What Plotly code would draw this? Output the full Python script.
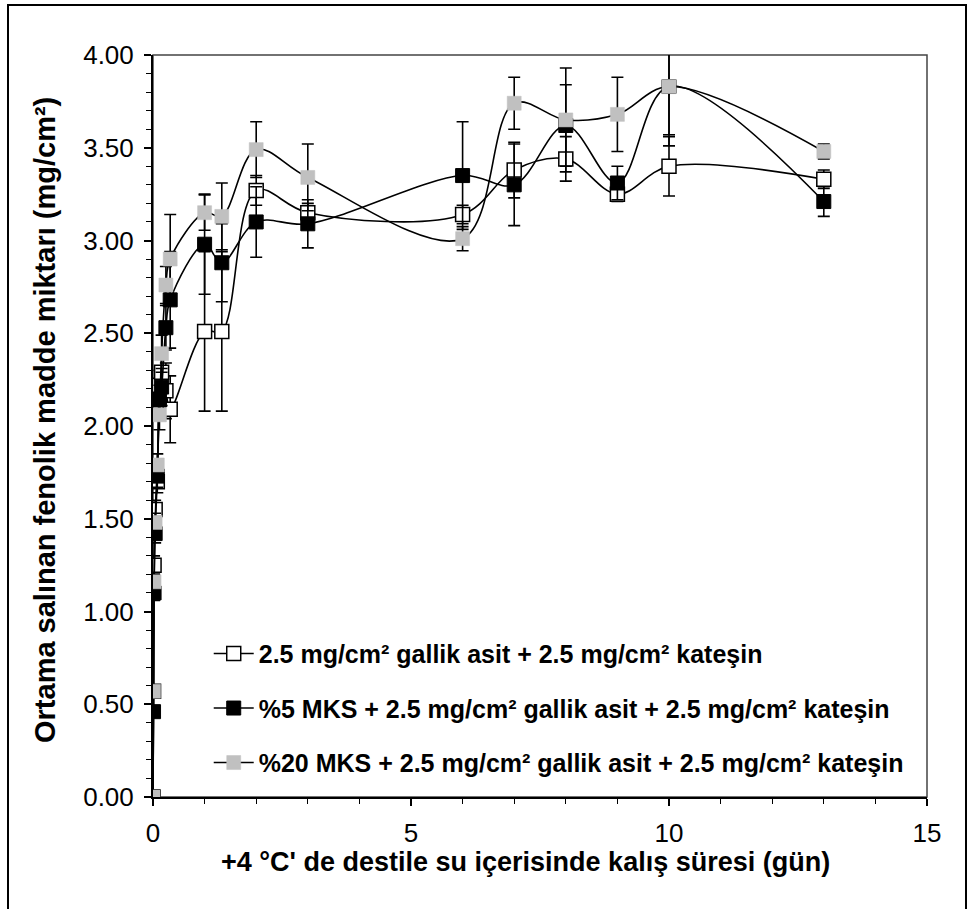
import plotly.graph_objects as go

# Sampling times (days) and mean released phenolic content (mg/cm²) with SD
days = [0, 0.0104, 0.0208, 0.0417, 0.0833, 0.125, 0.1667, 0.25, 0.3333,
        1, 1.3333, 2, 3, 6, 7, 8, 9, 10, 13]

control_mean = [0, 0.57, 1.25, 1.55, 1.70, 2.22, 2.29, 2.19, 2.09,
                2.51, 2.51, 3.27, 3.15, 3.14, 3.38, 3.44, 3.25, 3.40, 3.33]
control_sd = [0, 0.03, 0.05, 0.05, 0.06, 0.08, 0.10, 0.15, 0.18,
              0.43, 0.43, 0.08, 0.05, 0.05, 0.15, 0.12, 0.04, 0.16, 0.05]

mks5_mean = [0, 0.46, 1.10, 1.42, 1.73, 2.14, 2.21, 2.53, 2.68,
             2.98, 2.88, 3.10, 3.09, 3.35, 3.30, 3.62, 3.31, 3.83, 3.21]
mks5_sd = [0, 0.02, 0.04, 0.05, 0.06, 0.08, 0.10, 0.12, 0.26,
           0.27, 0.21, 0.19, 0.13, 0.29, 0.22, 0.22, 0.09, 0.32, 0.08]

mks20_mean = [0, 0.57, 1.16, 1.48, 1.79, 2.06, 2.39, 2.76, 2.90,
              3.15, 3.13, 3.49, 3.34, 3.01, 3.74, 3.65, 3.68, 3.83, 3.48]
mks20_sd = [0, 0.02, 0.04, 0.05, 0.06, 0.08, 0.10, 0.10, 0.24,
            0.095, 0.18, 0.15, 0.18, 0.065, 0.14, 0.28, 0.20, 0.26, 0.04]

series_names = [
    "2.5 mg/cm² gallik asit + 2.5 mg/cm² kateşin",
    "%5 MKS + 2.5 mg/cm² gallik asit + 2.5 mg/cm² kateşin",
    "%20 MKS + 2.5 mg/cm² gallik asit + 2.5 mg/cm² kateşin",
]

x_title = "+4 °C' de destile su içerisinde kalış süresi (gün)"
y_title = "Ortama salınan fenolik madde miktarı (mg/cm²)"

font_family = "Liberation Sans, Arial, sans-serif"

styles = [
    dict(fill="white", edge="black", edge_w=1.5),
    dict(fill="black", edge="black", edge_w=1.0),
    dict(fill="#c0c0c0", edge="#c0c0c0", edge_w=0.5),
]

fig = go.Figure()
for i, (name, mean, sd) in enumerate(zip(
        series_names,
        [control_mean, mks5_mean, mks20_mean],
        [control_sd, mks5_sd, mks20_sd])):
    st = styles[i]
    fig.add_trace(go.Scatter(
        x=days, y=mean, name=f"<b>{name}</b>", mode="lines+markers",
        line=dict(color="black", width=1.6, shape="spline", smoothing=1),
        marker=dict(symbol="square", size=14, color=st["fill"],
                    line=dict(color=st["edge"], width=st["edge_w"])),
        error_y=dict(type="data", array=sd, visible=True,
                     color="black", thickness=1.6, width=6),
        legendgroup=f"g{i}",
    ))

fig.update_layout(
    width=976, height=909,
    margin=dict(l=153, r=49, t=55, b=112),
    paper_bgcolor="white", plot_bgcolor="white",
    showlegend=True,
    legend=dict(
        x=0.072, y=0.224, xanchor="left", yanchor="top",
        bgcolor="rgba(0,0,0,0)", tracegroupgap=19, traceorder="grouped",
        font=dict(family=font_family, size=25, color="black"),
        itemwidth=40,
    ),
    font=dict(family=font_family, color="black"),
)

fig.update_xaxes(
    range=[0, 15], tickmode="linear", tick0=0, dtick=5,
    showgrid=False, zeroline=False,
    showline=True, linecolor="black", linewidth=2,
    ticks="outside", ticklen=7, tickwidth=1.5, tickcolor="black",
    minor=dict(dtick=1, ticks="outside", ticklen=5, tickwidth=1.2, tickcolor="black"),
    tickfont=dict(family=font_family, size=26, color="black"),
    ticklabelstandoff=5,
)
fig.update_yaxes(
    range=[0, 4], tickmode="linear", tick0=0, dtick=0.5, tickformat=".2f",
    showgrid=False, zeroline=False,
    showline=True, linecolor="black", linewidth=2,
    ticks="outside", ticklen=7, tickwidth=1.5, tickcolor="black",
    minor=dict(dtick=0.1, ticks="outside", ticklen=5, tickwidth=1.2, tickcolor="black"),
    tickfont=dict(family=font_family, size=26, color="black"),
    ticklabelstandoff=5,
)

# axis titles
fig.add_annotation(text=f"<b>{x_title}</b>", xref="paper", yref="paper",
                   x=(525 - 153) / 774, y=(797 - 862) / 742,
                   xanchor="center", yanchor="middle", showarrow=False,
                   font=dict(family=font_family, size=27, color="black"))
fig.add_annotation(text=f"<b>{y_title}</b>", xref="paper", yref="paper",
                   x=(45 - 153) / 774, y=(797 - 420) / 742, textangle=-90,
                   xanchor="center", yanchor="middle", showarrow=False,
                   font=dict(family=font_family, size=29, color="black"))

# plot-area box (top and right edges) and the outer frame of the figure
fig.add_shape(type="rect", xref="paper", yref="paper", x0=0, y0=0, x1=1, y1=1,
              line=dict(color="#444444", width=1.5), layer="below")
fig.add_shape(type="rect", xref="paper", yref="paper",
              x0=(8 - 153) / 774, x1=(966 - 153) / 774,
              y0=(797 - 940) / 742, y1=(797 - 5) / 742,
              line=dict(color="black", width=2), layer="below")

fig.write_html("out.html")
